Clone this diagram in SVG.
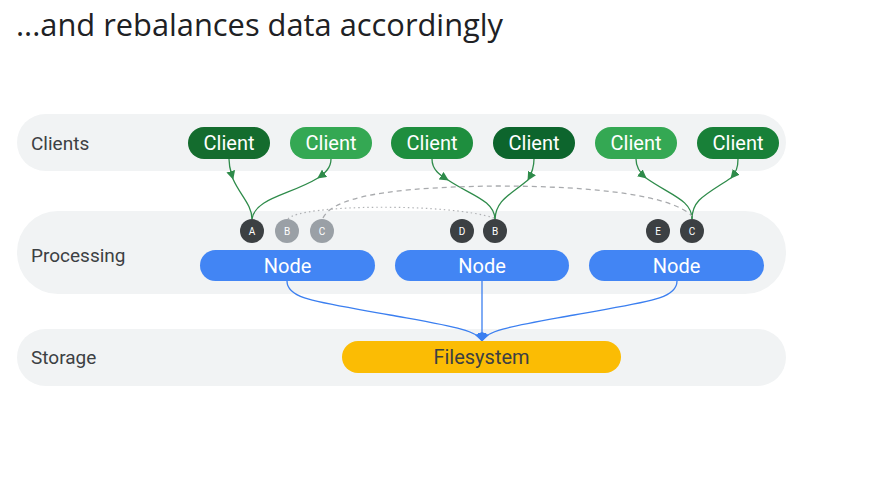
<svg xmlns="http://www.w3.org/2000/svg" width="890" height="479" viewBox="0 0 890 479">
<style>
.band{fill:#f1f3f4}
.lbl{font-family:"Roboto","Liberation Sans",sans-serif;font-size:19px;fill:#3c4043}
.ct{font-family:"Roboto","Liberation Sans",sans-serif;font-size:20px;fill:#ffffff;text-anchor:middle}
.nt{font-family:"Roboto","Liberation Sans",sans-serif;font-size:20px;fill:#ffffff;text-anchor:middle}
.key{font-family:"Roboto","Liberation Sans",sans-serif;font-size:10px;fill:#ffffff;text-anchor:middle}
.dk{fill:#3c4043}
.gr{fill:#9aa0a6}
.node{fill:#4285f4}
.g{fill:none;stroke:#2e8b4a;stroke-width:1.3}
.b{fill:none;stroke:#3b7ff0;stroke-width:1.3}
</style>
<defs>
<marker id="ag" viewBox="0 0 10 10" refX="9" refY="5" markerWidth="9" markerHeight="9" markerUnits="userSpaceOnUse" orient="auto"><path d="M0,0 L10,5 L0,10 z" fill="#2e8b4a"/></marker>
<marker id="ab" viewBox="0 0 10 10" refX="9" refY="5" markerWidth="9" markerHeight="9" markerUnits="userSpaceOnUse" orient="auto"><path d="M0,0 L10,5 L0,10 z" fill="#3b7ff0"/></marker>
</defs>
<rect width="890" height="479" fill="#ffffff"/>
<text x="16" y="36" font-family="'Open Sans','Liberation Sans',sans-serif" font-size="30.5" fill="#202124" textLength="487" lengthAdjust="spacingAndGlyphs">...and rebalances data accordingly</text>

<g id="bands">
<rect class="band" x="17" y="114" width="769" height="57" rx="28.5"/>
<rect class="band" x="17" y="211" width="769" height="83" rx="41"/>
<rect class="band" x="17" y="329" width="769" height="57" rx="28.5"/>
<text class="lbl" x="31" y="149.5">Clients</text>
<text class="lbl" x="31" y="261.5">Processing</text>
<text class="lbl" x="31" y="364">Storage</text>
</g>

<g id="connectors">
<path class="g" d="M229,159 C229,168 231,172 233,179" marker-end="url(#ag)"/>
<path class="g" d="M233,179 C240,195 252,205 252,219"/>
<path class="g" d="M331,159 C331,168 325,173 318,178" marker-end="url(#ag)"/>
<path class="g" d="M318,178 C290,195 255,198 252,219"/>
<path class="g" d="M432,159 C432,170 440,175 448,180" marker-end="url(#ag)"/>
<path class="g" d="M448,180 C470,195 494,200 495,219"/>
<path class="g" d="M534,159 C534,168 532,173 528,180" marker-end="url(#ag)"/>
<path class="g" d="M528,180 C510,195 496,200 495,219"/>
<path class="g" d="M636,159 C636,168 640,173 646,178" marker-end="url(#ag)"/>
<path class="g" d="M646,178 C670,195 692,200 692,219"/>
<path class="g" d="M738,159 C738,168 736,172 731,178" marker-end="url(#ag)"/>
<path class="g" d="M731,178 C705,195 692,200 692,219"/>
<path d="M323,218 C335,192 420,187 495,186 C600,186 672,196 692,216" fill="none" stroke="#a8aaad" stroke-width="1.3" stroke-dasharray="5,4"/>
<path d="M288,219 C300,204 450,203 494,218" fill="none" stroke="#b0b2b5" stroke-width="1.2" stroke-dasharray="1.5,3"/>
<path class="b" d="M287,281 C287,300 320,302 390,315 C450,326 478,330 482,341" marker-end="url(#ab)"/>
<path class="b" d="M482,281 L482,341" marker-end="url(#ab)"/>
<path class="b" d="M677,281 C677,300 644,302 574,315 C514,326 486,330 482,341" marker-end="url(#ab)"/>
</g>

<g id="client1"><rect x="188" y="127" width="82" height="32" rx="16" fill="#146c2e"/><text class="ct" x="229" y="150">Client</text></g>
<g id="client2"><rect x="290" y="127" width="82" height="32" rx="16" fill="#34a853"/><text class="ct" x="331" y="150">Client</text></g>
<g id="client3"><rect x="391" y="127" width="82" height="32" rx="16" fill="#1e8e3e"/><text class="ct" x="432" y="150">Client</text></g>
<g id="client4"><rect x="493" y="127" width="82" height="32" rx="16" fill="#0d652d"/><text class="ct" x="534" y="150">Client</text></g>
<g id="client5"><rect x="595" y="127" width="82" height="32" rx="16" fill="#34a853"/><text class="ct" x="636" y="150">Client</text></g>
<g id="client6"><rect x="697" y="127" width="82" height="32" rx="16" fill="#188038"/><text class="ct" x="738" y="150">Client</text></g>

<g id="keyA1"><circle class="dk" cx="252" cy="231" r="12"/><text class="key" x="252" y="234.5">A</text></g>
<g id="keyB1"><circle class="gr" cx="287" cy="231" r="12"/><text class="key" x="287" y="234.5">B</text></g>
<g id="keyC1"><circle class="gr" cx="322" cy="231" r="12"/><text class="key" x="322" y="234.5">C</text></g>
<g id="keyD2"><circle class="dk" cx="462" cy="231" r="12"/><text class="key" x="462" y="234.5">D</text></g>
<g id="keyB2"><circle class="dk" cx="495" cy="231" r="12"/><text class="key" x="495" y="234.5">B</text></g>
<g id="keyE3"><circle class="dk" cx="658" cy="231" r="12"/><text class="key" x="658" y="234.5">E</text></g>
<g id="keyC3"><circle class="dk" cx="692" cy="231" r="12"/><text class="key" x="692" y="234.5">C</text></g>

<g id="node1"><rect class="node" x="200" y="250" width="175" height="31" rx="15.5"/><text class="nt" x="287.5" y="272.5">Node</text></g>
<g id="node2"><rect class="node" x="395" y="250" width="174" height="31" rx="15.5"/><text class="nt" x="482" y="272.5">Node</text></g>
<g id="node3"><rect class="node" x="589" y="250" width="175" height="31" rx="15.5"/><text class="nt" x="676.5" y="272.5">Node</text></g>

<g id="filesystem"><rect x="342" y="341" width="279" height="32" rx="16" fill="#fbbc04"/><text x="481.5" y="364" font-family="Roboto,'Liberation Sans',sans-serif" font-size="20" fill="#3c4043" text-anchor="middle">Filesystem</text></g>
</svg>
